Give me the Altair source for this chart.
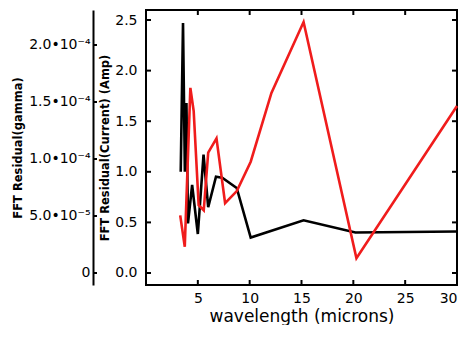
import altair as alt
import pandas as pd

# ---- data ----
black_wavelength = [3.35, 3.57, 3.75, 3.9, 4.05, 4.45, 5.0, 5.55, 6.0, 6.75, 7.35, 8.75, 10.1, 15.2, 20.2, 30.0]
black_gamma = [8.88e-5, 2.193e-4, 8.88e-5, 1.492e-4, 4.35e-5, 7.73e-5, 3.42e-5, 1.039e-4,
               5.77e-5, 8.44e-5, 8.35e-5, 7.46e-5, 3.11e-5, 4.62e-5, 3.55e-5, 3.64e-5]

red_wavelength = [3.3, 3.74, 4.28, 4.6, 5.08, 5.57, 6.0, 6.8, 7.63, 8.76, 10.1, 12.1, 15.2, 20.3, 30.0]
red_current = [0.57, 0.26, 1.83, 1.6, 0.67, 0.62, 1.19, 1.33, 0.69, 0.81, 1.1, 1.78, 2.48, 0.145, 1.65]

x_ticks = [5, 10, 15, 20, 25, 30]
current_ticks = [0.0, 0.5, 1.0, 1.5, 2.0, 2.5]
gamma_ticks = [0, 5e-5, 1e-4, 1.5e-4, 2e-4]
gamma_tick_labels = ["0", "5.0•10⁻⁵", "1.0•10⁻⁴", "1.5•10⁻⁴", "2.0•10⁻⁴"]

x_domain = [0, 30]
current_domain = [-0.1186, 2.599]
gamma_domain = [-1.053e-5, 2.307e-4]

W, H = 311, 275
GAMMA_OFFSET = 53
TICK = 5
FONT = "DejaVu Sans"

black_df = pd.DataFrame({"wavelength": black_wavelength, "gamma": black_gamma})
red_df = pd.DataFrame({"wavelength": red_wavelength, "current": red_current})

# label expression for the gamma axis
expr = "''"
for v, lab in reversed(list(zip(gamma_ticks, gamma_tick_labels))):
    expr = f"(abs(datum.value - ({v})) < 1e-9 ? '{lab}' : {expr})"

xscale = alt.Scale(domain=x_domain, nice=False, zero=False)
cscale = alt.Scale(domain=current_domain, nice=False, zero=False)
gscale = alt.Scale(domain=gamma_domain, nice=False, zero=False)

black_line = alt.Chart(black_df).mark_line(color="black", strokeWidth=2.6).encode(
    x=alt.X("wavelength:Q", scale=xscale, axis=None),
    y=alt.Y("gamma:Q", scale=gscale,
            axis=alt.Axis(orient="left", offset=GAMMA_OFFSET, values=gamma_ticks, labelExpr=expr,
                          ticks=False, tickSize=0, domain=True, domainColor="black", domainWidth=2,
                          grid=False, labelPadding=3, labelFont=FONT, labelFontSize=14,
                          labelColor="black", title="FFT Residual(gamma)", titleFont=FONT,
                          titleFontSize=11.5, titleFontWeight="bold", titleColor="black",
                          titlePadding=5)),
)

red_line = alt.Chart(red_df).mark_line(color="#f01c1c", strokeWidth=2.6).encode(
    x=alt.X("wavelength:Q", scale=xscale,
            axis=alt.Axis(orient="bottom", values=x_ticks, ticks=False, tickSize=0, domain=False,
                          grid=False, labelPadding=6, labelFont=FONT, labelFontSize=14,
                          labelColor="black", title="wavelength (microns)", titleFont=FONT,
                          titleFontSize=17, titleFontWeight="normal", titleColor="black",
                          titlePadding=3)),
    y=alt.Y("current:Q", scale=cscale,
            axis=alt.Axis(orient="left", values=current_ticks, format=".1f", ticks=False,
                          tickSize=0, domain=False, grid=False, labelPadding=9, labelFont=FONT,
                          labelFontSize=14, labelColor="black",
                          title="FFT Residual(Current) (Amp)", titleFont=FONT, titleFontSize=11.5,
                          titleFontWeight="bold", titleColor="black", titlePadding=4)),
)

# inward tick marks on the frame, placed through the scales at the domain edges
xt_bottom = pd.DataFrame({"wavelength": x_ticks, "edge": [current_domain[0]] * len(x_ticks)})
xt_top = pd.DataFrame({"wavelength": x_ticks, "edge": [current_domain[1]] * len(x_ticks)})
yt_left = pd.DataFrame({"current": current_ticks, "edge": [x_domain[0]] * len(current_ticks)})
yt_right = pd.DataFrame({"current": current_ticks, "edge": [x_domain[1]] * len(current_ticks)})
gt_left = pd.DataFrame({"gamma": gamma_ticks, "edge": [x_domain[0]] * len(gamma_ticks)})


def xtick_layer(df, shift):
    return alt.Chart(df).mark_tick(orient="vertical", size=TICK, thickness=2, color="black",
                                   opacity=1, yOffset=shift).encode(
        x=alt.X("wavelength:Q", scale=xscale, axis=None),
        y=alt.Y("edge:Q", scale=cscale, axis=None),
    )


def ytick_layer(df, field, scale, shift, size=TICK):
    return alt.Chart(df).mark_tick(orient="horizontal", size=size, thickness=2, color="black",
                                   opacity=1, xOffset=shift).encode(
        x=alt.X("edge:Q", scale=xscale, axis=None),
        y=alt.Y(f"{field}:Q", scale=scale, axis=None),
    )


tick_bottom = xtick_layer(xt_bottom, -TICK / 2)
tick_top = xtick_layer(xt_top, TICK / 2)
tick_left = ytick_layer(yt_left, "current", cscale, TICK / 2)
tick_right = ytick_layer(yt_right, "current", cscale, -TICK / 2)
tick_gamma = ytick_layer(gt_left, "gamma", gscale, -GAMMA_OFFSET + 2, size=4)

chart = alt.layer(
    black_line, red_line, tick_bottom, tick_top, tick_left, tick_right, tick_gamma
).resolve_scale(
    x="independent", y="independent"
).properties(
    width=W, height=H,
    autosize=alt.AutoSizeParams(type="none"),
    padding={"left": 138, "top": 2, "right": 7, "bottom": 40},
    background="white",
).configure_view(stroke="black", strokeWidth=2)

chart.save("out.html", embed_options={"renderer": "svg", "actions": False})
